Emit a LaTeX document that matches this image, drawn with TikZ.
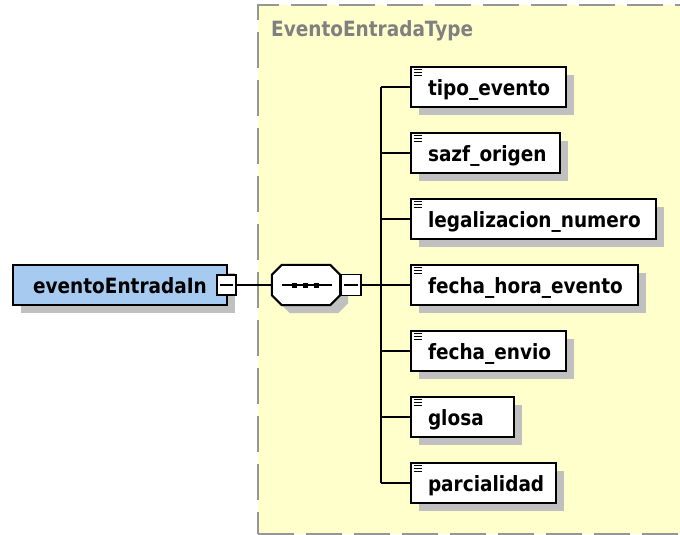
\documentclass[tikz,border=0pt]{standalone}
\usepackage{fontspec}
\setmainfont[FakeStretch=0.88]{DejaVu Sans}
\usetikzlibrary{calc}
\definecolor{ylw}{RGB}{255,255,204}
\definecolor{blu}{RGB}{166,202,240}
\definecolor{shd}{RGB}{192,192,192}
\definecolor{brd}{RGB}{150,150,150}
\definecolor{ttl}{RGB}{128,128,128}
\begin{document}
\begin{tikzpicture}[x=1pt,y=-1pt,
  font=\fontsize{21}{24}\selectfont\bfseries,
  shd/.style={preaction={fill=shd, transform canvas={xshift=8pt, yshift=-8pt}}},
  container/.style={draw=brd, fill=ylw, line width=2pt, dash pattern=on 36pt off 12pt, inner sep=0pt},
  elem/.style={draw=black, line width=2pt, fill=white, anchor=west, inner sep=0pt,
    text height=28.5pt, text depth=11.5pt, align=left, shd},
  mainel/.style={draw=black, line width=2pt, fill=blu, inner sep=0pt,
    minimum width=214pt, text height=28pt, text depth=12pt, shd},
  minusbox/.style={draw=black, line width=1.6pt, fill=white, inner sep=0pt, minimum width=19pt, minimum height=20pt},
  seqframe/.style={inner sep=0pt, minimum width=68pt, minimum height=40pt},
  conn/.style={draw=black, line width=2pt},
  iconline/.style={draw=black, line width=1.4pt}
]
\useasboundingbox (0,0) rectangle (680,535);

% container
\node[container, minimum width=442pt, minimum height=529pt] (ct) at (479,269.5) {};
\node[anchor=base west, text=ttl, inner sep=0pt] (title) at (271,37) {EventoEntradaType};

% main element
\node[mainel] (main) at (120,285) {eventoEntradaIn};
\node[minusbox] (mm) at (226.5,285) {};
\draw[conn, line width=1.6pt] ($(mm.west)+(3.5,0)$) -- ($(mm.east)+(-3.5,0)$);

% sequence compositor
\node[seqframe] (seq) at (306,285) {};
\fill[shd, xshift=8pt, yshift=-8pt]
  ($(seq.north west)+(10,0)$) -- ($(seq.north east)+(-10,0)$) -- ($(seq.north east)+(0,10)$)
  -- ($(seq.south east)+(0,-10)$) -- ($(seq.south east)+(-10,0)$) -- ($(seq.south west)+(10,0)$)
  -- ($(seq.south west)+(0,-10)$) -- ($(seq.north west)+(0,10)$) -- cycle;
\draw[conn, fill=white]
  ($(seq.north west)+(10,0)$) -- ($(seq.north east)+(-10,0)$) -- ($(seq.north east)+(0,10)$)
  -- ($(seq.south east)+(0,-10)$) -- ($(seq.south east)+(-10,0)$) -- ($(seq.south west)+(10,0)$)
  -- ($(seq.south west)+(0,-10)$) -- ($(seq.north west)+(0,10)$) -- cycle;
\draw[conn, line width=1.6pt] ($(seq.west)+(10,0)$) -- ($(seq.east)+(-8,0)$);
\foreach \dx in {-12,-1,10}
  \fill[black] ($(seq.center)+(\dx-2.5,-2.5)$) rectangle ++(5,5);
\node[minusbox, minimum width=20pt, minimum height=21pt] (sm) at (351,285) {};
\draw[conn, line width=1.6pt] ($(sm.west)+(3.5,0)$) -- ($(sm.east)+(-3.5,0)$);

\draw[conn] (mm.east) -- (seq.west);

% children
\node[elem, text width=155pt] (c1) at (410,87)  {\hspace*{17pt}tipo\_evento};
\node[elem, text width=149pt] (c2) at (410,153) {\hspace*{17pt}sazf\_origen};
\node[elem, text width=245pt] (c3) at (410,219) {\hspace*{17pt}legalizacion\_numero};
\node[elem, text width=227pt] (c4) at (410,285) {\hspace*{17pt}fecha\_hora\_evento};
\node[elem, text width=155pt] (c5) at (410,351) {\hspace*{17pt}fecha\_envio};
\node[elem, text width=103pt] (c6) at (410,417) {\hspace*{17pt}glosa};
\node[elem, text width=145pt] (c7) at (410,483) {\hspace*{17pt}parcialidad};

\foreach \c in {c1,c2,c3,c4,c5,c6,c7} {
  \foreach \dy in {3.5,6.5,9.5}
    \draw[iconline] ($(\c.north west)+(3.5,\dy)$) -- ++(8.5,0);
}

% connectors
\coordinate (jt) at (380.5,87);
\coordinate (jb) at (380.5,483);
\draw[conn] (jt) -- (jb);
\draw[conn] (sm.east) -- (sm.east -| jt);
\foreach \c in {c1,c2,c3,c4,c5,c6,c7}
  \draw[conn] (\c.west -| jt) -- (\c.west);
\end{tikzpicture}
\end{document}
